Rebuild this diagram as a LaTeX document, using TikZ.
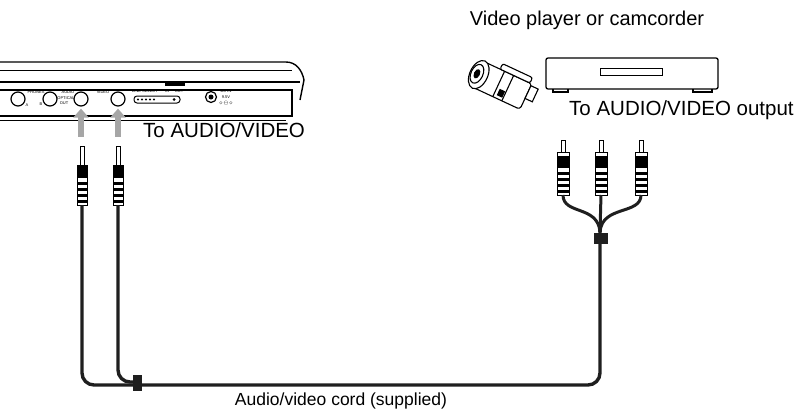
\documentclass[tikz,border=0pt]{standalone}
\usepackage{fontspec}
\setmainfont{Liberation Sans}
\usetikzlibrary{arrows.meta}
\definecolor{Cord}{rgb}{0.12,0.12,0.12}
\tikzset{
  cord/.style={line width=3.4pt, Cord, rounded corners=12pt},
  jack/.style={draw, line width=1.2pt, circle, minimum size=14pt, inner sep=0pt},
  tiny/.style={font=\fontsize{4}{5}\selectfont, inner sep=0pt},
  label/.style={font=\fontsize{20.5}{24}\selectfont, inner sep=0pt}
}
\begin{document}
\begin{tikzpicture}[x=1pt,y=-1pt]
\useasboundingbox (0,0) rectangle (804,415);
%%player
\draw[line width=1.4pt] (0,62) -- (286,62) .. controls (296,62) and (302,70) .. (304,80) -- (300,100);
\draw[line width=1pt] (0,70) -- (292,70);
\draw[line width=1.4pt] (0,82) -- (300,82);
\draw[line width=1.2pt] (0,90) -- (292,90) -- (292,116) -- (0,116);
\draw[line width=1pt] (0,120) -- (286,120);
\fill (165,83) rectangle (185,86);
\node[jack] (phA) at (18,99) {};
\node[jack] (phB) at (50,99) {};
\node[jack] (audio) at (81,99) {};
\node[jack] (video) at (118,99) {};
\node[tiny] at (36,92) {PHONES};
\node[tiny] at (27,105) {A};
\node[tiny] at (41,104) {B};
\node[tiny] at (68,92) {AUDIO};
\node[tiny] at (66,98) {OPTICAL};
\node[tiny] at (64,103) {OUT};
\node[tiny] at (103,92) {VIDEO};
\node[tiny] at (145,91) {LINE SELECT};
\node[tiny] at (167,91) {IN};
\node[tiny] at (179,91) {OUT};
\draw[line width=1pt, rounded corners=3pt] (134,96) rectangle (180,103);
\foreach \x in {138,142,146,150,154}
  \fill (\x,99.5) circle (1.2pt);
\fill (174,99.5) circle (1.5pt);
\node[jack, minimum size=11pt] (dcin) at (211,97) {};
\fill (dcin) circle (2.5pt);
\node[tiny] at (226,91) {DC IN};
\node[tiny] at (226,97) {9.5V};
\node[tiny] at (226,103) {$\diamond\!\ominus\!\diamond$};
%%arrows
\foreach \p in {audio,video}
  \draw[gray!70, line width=6pt, -{Triangle[length=9pt,width=15pt]}] ([yshift=-30pt]\p.south) -- ([yshift=-2pt]\p.south);
\node[label, anchor=west] (toav) at (143,130) {To AUDIO/VIDEO};
%%mini plugs
\foreach \x/\n in {82/pa,118/pv}{
  \coordinate (\n) at (\x,205);
  \draw[line width=1pt, fill=white] (\x-2,146) -- (\x-2,165) -- (\x+2,165) -- (\x+2,146) -- cycle;
  \draw[line width=1pt, fill=white] (\x-5,165) rectangle (\x+5,205);
  \fill (\x-5,166) rectangle (\x+5,178);
  \foreach \y in {182,188,194,200}
    \fill (\x-5,\y) rectangle (\x+5,\y+3);
}
\draw[cord] (pa) -- (82,385) -- (600,385) -- (600,230);
\draw[cord] (pv) -- (118,382) -- (140,382);
\fill[Cord] (133,375) rectangle (142,391);
%%rca plugs
\foreach \x/\n in {563/ra,601/rv,641/rb}{
  \coordinate (\n) at (\x,195);
  \draw[line width=1pt, fill=white] (\x-2,140) rectangle (\x+2,152);
  \draw[line width=1pt, fill=white] (\x-6,152) rectangle (\x+6,195);
  \fill (\x-6,156) rectangle (\x+6,168);
  \foreach \y in {172,178,184,190}
    \fill (\x-6,\y) rectangle (\x+6,\y+3);
}
\draw[line width=3pt, Cord] (ra) .. controls (563,215) and (598,205) .. (600,232);
\draw[line width=3pt, Cord] (rb) .. controls (641,215) and (602,205) .. (600,232);
\draw[line width=3pt, Cord] (rv) -- (600,232);
\fill[Cord] (594,233) rectangle (608,244);
%%devices
\node[font=\fontsize{20}{24}\selectfont] (vplayer) at (587,20) {Video player or camcorder};
\draw[line width=1.3pt, rounded corners=2pt] (546,58) rectangle (718,89);
\draw[line width=1pt] (600,68) rectangle (662,75);
\draw[line width=1.3pt] (553,89) -- (553,92) -- (568,92) -- (568,89);
\draw[line width=1.3pt] (693,89) -- (693,92) -- (712,92) -- (712,89);
%%camcorder
\begin{scope}[line width=1.1pt, rotate around={-25:(495,80)}]
\draw[fill=white, rounded corners=3pt] (478,68) rectangle (530,96);
\draw[fill=white, rounded corners=2pt] (495,62) rectangle (528,68);
\draw[fill=white] (530,70) rectangle (538,84);
\draw (500,68) -- (500,96);
\draw (510,68) -- (510,96);
\draw[fill=white] (478,82) ellipse (9pt and 15pt);
\draw (476,82) ellipse (6pt and 10pt);
\fill (476,82) ellipse (3pt and 5pt);
\fill (503,86) rectangle (509,93);
\end{scope}
\node[label, anchor=west] (tooutput) at (569,110) {To AUDIO/VIDEO output};
\node[font=\fontsize{17.5}{20}\selectfont] (cordlbl) at (341,401) {Audio/video cord (supplied)};
\end{tikzpicture}
\end{document}
